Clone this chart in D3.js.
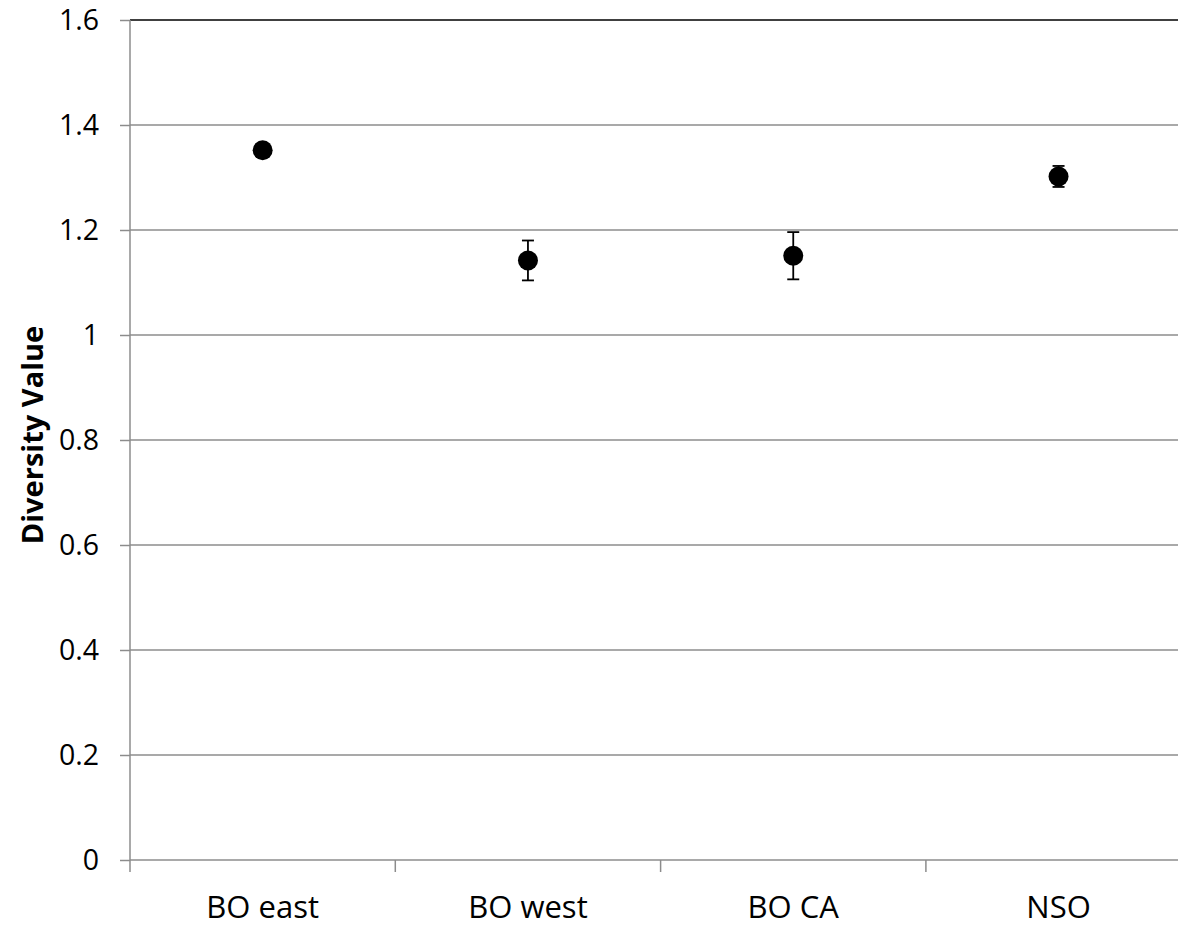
<!DOCTYPE html>
<html>
<head>
<meta charset="utf-8">
<script src="https://cdn.jsdelivr.net/npm/d3@7"></script>
<style>
  body { margin: 0; background: #fff; }
  text { font-family: "Open Sans", sans-serif; fill: #000; }
</style>
</head>
<body>
<script>
// chart data
var categories = ["BO east", "BO west", "BO CA", "NSO"];
var values = [1.352, 1.142, 1.151, 1.302];
var errors = [0.005, 0.038, 0.045, 0.02];
var yTicks = [0, 0.2, 0.4, 0.6, 0.8, 1, 1.2, 1.4, 1.6];

var W = 1178, H = 928;
var margin = {top: 20, left: 130, bottom: 68};
var plotH = H - margin.top - margin.bottom;
var bandW = 265.3;

var svg = d3.select("body").append("svg")
    .attr("width", W)
    .attr("height", H);

var x = d3.scaleBand().domain(categories)
    .range([margin.left, margin.left + bandW * categories.length]);
var y = d3.scaleLinear().domain([0, 1.6]).range([margin.top + plotH, margin.top]);

// gridlines
svg.append("g").selectAll("line")
    .data(yTicks.filter(function(d) { return d > 0; }))
    .enter().append("line")
    .attr("x1", margin.left)
    .attr("x2", W)
    .attr("y1", function(d) { return y(d); })
    .attr("y2", function(d) { return y(d); })
    .attr("stroke", function(d) { return d == 1.6 ? "#000" : "#8c8c8c"; })
    .attr("stroke-width", 1.5);

// y axis
var yAxis = svg.append("g")
    .attr("transform", "translate(" + margin.left + ",0)")
    .call(d3.axisLeft(y).tickValues(yTicks).tickSize(10).tickPadding(21)
        .tickFormat(function(d) { return d3.format("")(+d.toFixed(1)); }));
yAxis.selectAll("line, path").attr("stroke", "#8c8c8c").attr("stroke-width", 1.5);
yAxis.select("path").attr("d", "M0," + y(1.6) + "V" + y(0));
yAxis.selectAll("text").style("font-size", "28.5px").attr("dy", "0.35em");

// x axis
var xAxis = svg.append("g")
    .attr("transform", "translate(0," + y(0) + ")")
    .call(d3.axisBottom(x).tickSize(0).tickPadding(36));
xAxis.select("path").attr("stroke", "#8c8c8c").attr("stroke-width", 1.5)
    .attr("d", "M" + margin.left + ",0H" + W);
xAxis.selectAll("text").style("font-size", "31px");
svg.append("g").selectAll("line")
    .data(d3.range(categories.length + 1))
    .enter().append("line")
    .attr("x1", function(i) { return margin.left + i * x.step(); })
    .attr("x2", function(i) { return margin.left + i * x.step(); })
    .attr("y1", y(0))
    .attr("y2", y(0) + 12)
    .attr("stroke", "#8c8c8c")
    .attr("stroke-width", 1.5);

// y label
svg.append("text")
    .attr("transform", "translate(43,435) rotate(-90)")
    .attr("text-anchor", "middle")
    .style("font-size", "29px")
    .style("font-weight", "bold")
    .text("Diversity Value");

// error bars
var pts = categories.map(function(c, i) {
    return {cat: c, v: values[i], e: errors[i]};
});
var eb = svg.append("g").selectAll("g").data(pts).enter().append("g")
    .attr("stroke", "#000").attr("stroke-width", 1.8);
eb.append("line")
    .attr("x1", function(d) { return x(d.cat) + x.bandwidth() / 2; })
    .attr("x2", function(d) { return x(d.cat) + x.bandwidth() / 2; })
    .attr("y1", function(d) { return y(d.v + d.e); })
    .attr("y2", function(d) { return y(d.v - d.e); });
[1, -1].forEach(function(s) {
    eb.append("line")
        .attr("x1", function(d) { return x(d.cat) + x.bandwidth() / 2 - 6; })
        .attr("x2", function(d) { return x(d.cat) + x.bandwidth() / 2 + 6; })
        .attr("y1", function(d) { return y(d.v + s * d.e); })
        .attr("y2", function(d) { return y(d.v + s * d.e); });
});

// points
svg.append("g").selectAll("circle").data(pts).enter().append("circle")
    .attr("cx", function(d) { return x(d.cat) + x.bandwidth() / 2; })
    .attr("cy", function(d) { return y(d.v); })
    .attr("r", 10)
    .attr("fill", "#000");
</script>
</body>
</html>
